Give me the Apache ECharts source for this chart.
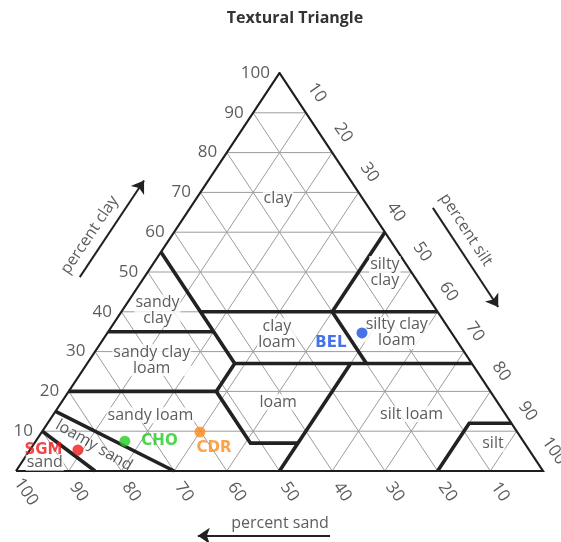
<!DOCTYPE html>
<html><head><meta charset="utf-8">
<script src="https://cdn.jsdelivr.net/npm/echarts@6/dist/echarts.min.js"></script>
<style>html,body{margin:0;padding:0;background:#fff}#c{width:561px;height:542px}</style>
</head><body><div id="c"></div>
<script>
// ---------------- data ----------------
const tickValues = [10, 20, 30, 40, 50, 60, 70, 80, 90, 100];
const gridSteps = [10, 20, 30, 40, 50, 60, 70, 80, 90];

const sampleNames = ['SGM', 'CHO', 'CDR', 'BEL'];
const sampleSand = [85.6, 75.6, 60.2, 17.0];
const sampleSilt = [9.1, 16.9, 30.0, 48.3];
const sampleClay = [5.3, 7.5, 9.8, 34.7];

// texture-class boundaries, points as [sand, silt, clay] percent
const bSandLoamySand = [[90, 0, 10], [85, 15, 0]];
const bLoamySandSandyLoam = [[85, 0, 15], [70, 30, 0]];
const bSandyLoamTop = [[80, 0, 20], [52, 28, 20], [52, 41, 7], [43, 50, 7]];
const bSandyClayLoamRight = [[52, 28, 20], [45, 28, 27], [45, 0, 55]];
const bSandyClayBottom = [[65, 0, 35], [45, 20, 35]];
const bClay27 = [[45, 28, 27], [0, 73, 27]];
const bClay40 = [[45, 15, 40], [0, 60, 40]];
const bSand20 = [[20, 40, 40], [20, 53, 27]];
const bSilt40 = [[20, 40, 40], [0, 40, 60]];
const bSilt50 = [[50, 50, 0], [23, 50, 27]];
const bSilt = [[20, 80, 0], [8, 80, 12], [0, 88, 12]];
const boundaries = [bSandLoamySand, bLoamySandSandyLoam, bSandyLoamTop, bSandyClayLoamRight,
  bSandyClayBottom, bClay27, bClay40, bSand20, bSilt40, bSilt50, bSilt];

const classNames = ['clay', 'silty\nclay', 'sandy\nclay', 'clay\nloam', 'silty clay\nloam',
  'sandy clay\nloam', 'loam', 'sandy loam', 'silt loam', 'silt', 'loamy sand', 'sand'];
// label anchor points, [sand, silt, clay] percent
const classAt = [[16, 15.4, 68.6], [5, 45, 50], [53, 6.7, 40.3], [33.3, 32.3, 34.4], [10.4, 54.9, 34.7],
  [60.3, 11.8, 27.9], [41.6, 41.1, 17.3], [67.5, 18.5, 14.0], [17.8, 67.9, 14.3], [6.1, 87.1, 6.8],
  [82, 11.6, 6.4], [93.5, 4.4, 2.1]];

// ---------------- geometry ----------------
function T(sand, silt, clay) { return [silt + clay / 2, clay]; }
const SX = 527 / 100, SY = 398 / 100;
function off(p, dx, dy) { return [p[0] + dx / SX, p[1] - dy / SY]; }

const gridLines = [];
gridSteps.forEach(k => {
  gridLines.push({ coords: [T(100 - k, 0, k), T(0, 100 - k, k)] });
  gridLines.push({ coords: [T(100 - k, k, 0), T(0, k, 100 - k)] });
  gridLines.push({ coords: [T(k, 100 - k, 0), T(k, 0, 100 - k)] });
});
const outline = [{ coords: [T(100, 0, 0), T(0, 100, 0), T(0, 0, 100), T(100, 0, 0)] }];
const bLines = boundaries.map(b => ({ coords: b.map(p => T(p[0], p[1], p[2])) }));

const TXT = '#333', FONT = 'Open Sans';
const hidden = { color: 'rgba(0,0,0,0)' };

const chart = echarts.init(document.getElementById('c'), null, { renderer: 'canvas' });
chart.setOption({
  animation: false,
  backgroundColor: '#fff',
  title: {
    text: 'Textural Triangle', left: 290, top: 5, textAlign: 'center',
    textStyle: { fontFamily: FONT, fontSize: 16, fontWeight: 'bold', color: '#333' }
  },
  grid: { left: 16, top: 73, width: 527, height: 398 },
  xAxis: { type: 'value', min: 0, max: 100, show: false },
  yAxis: { type: 'value', min: 0, max: 100, show: false },
  series: [
    { type: 'lines', coordinateSystem: 'cartesian2d', polyline: true, silent: true, z: 1,
      lineStyle: { color: '#9c9c9c', width: 1, opacity: 1, curveness: 0 }, data: gridLines },
    { type: 'lines', coordinateSystem: 'cartesian2d', polyline: true, silent: true, z: 3,
      lineStyle: { color: '#1e1e1e', width: 2.2, opacity: 1 }, data: outline },
    { type: 'lines', coordinateSystem: 'cartesian2d', polyline: true, silent: true, z: 4,
      lineStyle: { color: '#222', width: 3.6, opacity: 1, join: 'miter' }, data: bLines },
    // arrows beside the axis titles
    { type: 'lines', coordinateSystem: 'cartesian2d', silent: true, clip: false, z: 4,
      symbol: ['none', 'arrow'], symbolSize: 12,
      lineStyle: { color: '#222', width: 2, opacity: 1 },
      data: [
        { coords: [[12.1, 48.7], [24.3, 73.0]] },
        { coords: [[79.1, 66.1], [91.5, 41.2]] },
        { coords: [[59.6, -16.3], [34.5, -16.3]] }
      ] },
    // clay ticks
    { type: 'scatter', silent: true, clip: false, z: 5, symbolSize: 1, itemStyle: hidden,
      label: { show: true, position: 'left', distance: 9, formatter: '{b}', fontFamily: FONT, fontSize: 17, color: TXT },
      data: tickValues.map(k => ({ name: String(k), value: T(100 - k, 0, k) })) },
    // sand ticks
    { type: 'scatter', silent: true, clip: false, z: 5, symbolSize: 1, itemStyle: hidden,
      label: { show: true, position: 'inside', rotate: -55, formatter: '{b}', fontFamily: FONT, fontSize: 17, color: TXT },
      data: tickValues.map(k => ({ name: String(k), value: off(T(k, 100 - k, 0), 10, 21) })) },
    // silt ticks
    { type: 'scatter', silent: true, clip: false, z: 5, symbolSize: 1, itemStyle: hidden,
      label: { show: true, position: 'inside', rotate: -55, formatter: '{b}', fontFamily: FONT, fontSize: 17, color: TXT },
      data: tickValues.map(k => ({ name: String(k), value: off(T(0, k, 100 - k), 11, -20) })) },
    // class names
    { type: 'scatter', silent: true, clip: false, z: 6, symbolSize: 1, itemStyle: hidden,
      label: { show: true, position: 'inside', formatter: '{b}', fontFamily: FONT, fontSize: 16, lineHeight: 16,
        color: TXT, backgroundColor: '#fff', padding: [0, 1] },
      data: classNames.map((n, i) => ({ name: n, value: T(classAt[i][0], classAt[i][1], classAt[i][2]),
        label: n === 'loamy sand' ? { rotate: -30, backgroundColor: 'rgba(0,0,0,0)' } : {} })) },
    // axis titles
    { type: 'scatter', silent: true, clip: false, z: 6, symbolSize: 1, itemStyle: hidden,
      label: { show: true, position: 'inside', formatter: '{b}', fontFamily: FONT, fontSize: 16, color: TXT },
      data: [
        { name: 'percent clay', value: [14.0, 59.3], label: { rotate: 56 } },
        { name: 'percent silt', value: [85.4, 60.6], label: { rotate: -57 } },
        { name: 'percent sand', value: [50.1, -13.1] }
      ] },
    // samples
    { type: 'scatter', silent: true, clip: false, z: 8, symbolSize: 11,
      label: { show: true, formatter: '{b}', fontFamily: 'DejaVu Sans', fontWeight: 'bold', fontSize: 15 },
      data: sampleNames.map((n, i) => {
        const colors = { SGM: '#ee1c1c', CHO: '#22cc22', CDR: '#ff8a1c', BEL: '#1a4fe0' };
        const pos = { SGM: { position: 'left', distance: 10 }, CHO: { position: 'right', distance: 11 },
          CDR: { position: 'inside', offset: [14, 16] }, BEL: { position: 'inside', offset: [-31, 10] } };
        return { name: n, value: T(sampleSand[i], sampleSilt[i], sampleClay[i]),
          itemStyle: { color: colors[n] }, label: Object.assign({ color: colors[n] }, pos[n]) };
      }) }
  ]
});
</script></body></html>
